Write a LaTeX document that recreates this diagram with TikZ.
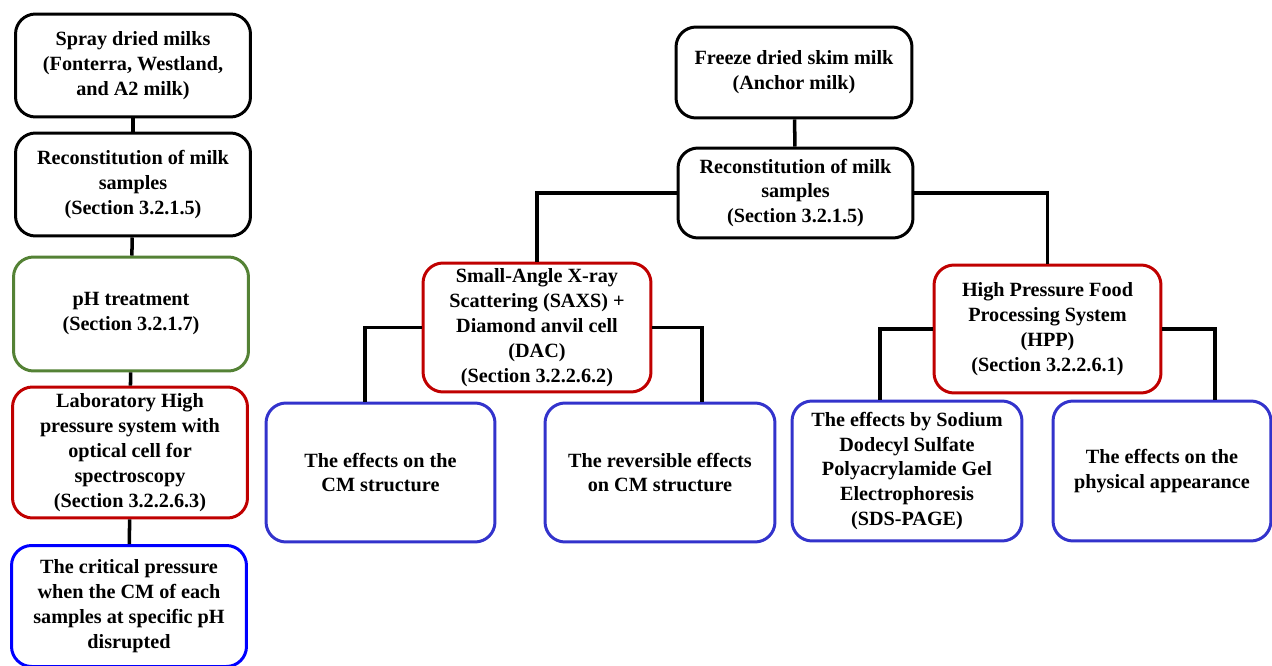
\documentclass[tikz,border=0pt]{standalone}
\usepackage{fontspec}
\setmainfont{Liberation Serif}
\definecolor{stepgreen}{HTML}{548235}
\definecolor{stepred}{HTML}{C00000}
\definecolor{stepblue}{HTML}{3333CC}
\definecolor{pureblue}{HTML}{0000FF}
\tikzset{
  box/.style={draw=black,line width=1.7pt,rounded corners=0.4cm,fill=white,
    align=center,inner sep=0pt,
    font=\bfseries\fontsize{11.5}{14.2}\selectfont},
  link/.style={line width=2pt,draw=black}
}
\begin{document}
\begin{tikzpicture}[x=0.02cm,y=-0.02cm]
\useasboundingbox (0,0) rectangle (1272,666);
% spray dried branch
\node[box,minimum width=4.7cm,minimum height=2.06cm] (spray) at (133,65.5)
  {Spray dried milks\\(Fonterra, Westland,\\and A2 milk)};
\node[box,minimum width=4.7cm,minimum height=2.06cm] (reconA) at (133,184.5)
  {Reconstitution of milk\\samples\\(Section 3.2.1.5)};
\node[box,draw=stepgreen,minimum width=4.7cm,minimum height=2.28cm] (ph) at (131,314)
  {pH treatment\\(Section 3.2.1.7)};
\node[box,draw=stepred,minimum width=4.7cm,minimum height=2.62cm] (lab) at (130,452.5)
  {Laboratory High\\pressure system with\\optical cell for\\spectroscopy\\(Section 3.2.2.6.3)};
\node[box,draw=pureblue,minimum width=4.7cm,minimum height=2.42cm] (crit) at (129,606)
  {The critical pressure\\when the CM of each\\samples at specific pH\\disrupted};
% freeze dried branch
\node[box,minimum width=4.72cm,minimum height=1.82cm] (freeze) at (794,72.5)
  {Freeze dried skim milk\\(Anchor milk)};
\node[box,minimum width=4.7cm,minimum height=1.8cm] (reconB) at (795.5,193)
  {Reconstitution of milk\\samples\\(Section 3.2.1.5)};
\node[box,draw=stepred,minimum width=4.56cm,minimum height=2.58cm] (saxs) at (537,327.5)
  {Small-Angle X-ray\\Scattering (SAXS) +\\Diamond anvil cell\\(DAC)\\(Section 3.2.2.6.2)};
\node[box,draw=stepred,minimum width=4.54cm,minimum height=2.56cm] (hpp) at (1047.5,329)
  {High Pressure Food\\Processing System\\(HPP)\\(Section 3.2.2.6.1)};
\node[box,draw=stepblue,minimum width=4.58cm,minimum height=2.78cm] (cms) at (380.5,472.5)
  {The effects on the\\CM structure};
\node[box,draw=stepblue,minimum width=4.6cm,minimum height=2.78cm] (rev) at (660,472.5)
  {The reversible effects\\on CM structure};
\node[box,draw=stepblue,minimum width=4.6cm,minimum height=2.8cm] (sds) at (907,471)
  {The effects by Sodium\\Dodecyl Sulfate\\Polyacrylamide Gel\\Electrophoresis\\(SDS-PAGE)};
\node[box,draw=stepblue,minimum width=4.36cm,minimum height=2.8cm] (phys) at (1162,471)
  {The effects on the\\physical appearance};
% connectors
\draw[link] (spray) -- (reconA);
\draw[link] (reconA) -- (ph);
\draw[link] (ph) -- (lab);
\draw[link] (lab) -- (crit);
\draw[link] (freeze) -- (reconB);
\draw[link] (reconB.west) -| (saxs.north);
\draw[link] (reconB.east) -| (hpp.north);
\draw[link] (saxs.west) -| ([xshift=-0.31cm]cms.north);
\draw[link] (saxs.east) -| ([xshift=0.84cm]rev.north);
\draw[link] (hpp.west) -| ([xshift=-0.54cm]sds.north);
\draw[link] (hpp.east) -| ([xshift=1.06cm]phys.north);
\end{tikzpicture}
\end{document}
